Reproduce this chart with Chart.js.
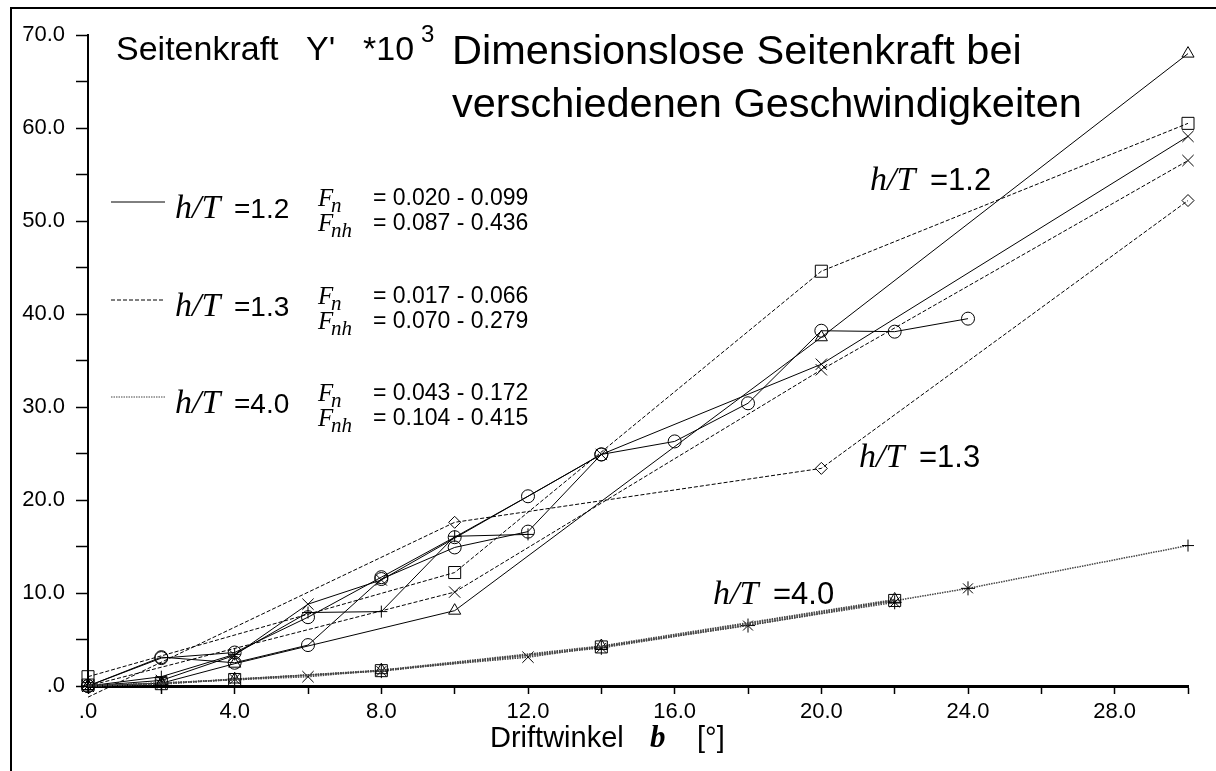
<!DOCTYPE html>
<html>
<head>
<meta charset="utf-8">
<script src="https://cdn.jsdelivr.net/npm/chart.js@4.4.1/dist/chart.umd.min.js"></script>
<style>
  html, body { margin: 0; padding: 0; background: #ffffff; }
  canvas { display: block; }
</style>
</head>
<body>
<canvas id="chart" width="1216" height="771"></canvas>
<script>
// Driftwinkel beta [deg] and side force Y' * 10^3 for each measured series

// h/T = 1.2 (solid lines)
const beta12Tri   = [0, 2, 4, 10, 20, 30];
const force12Tri  = [0, 0.3, 2.4, 8.1, 37.5, 68.0];
const beta12CircA = [0, 2, 4, 6, 8, 10, 12, 14, 16, 18, 20, 22, 24];
const force12CircA= [0, 3.1, 2.5, 4.4, 11.5, 14.9, 16.6, 24.9, 26.3, 30.4, 38.2, 38.1, 39.5];
const beta12CircB = [0, 2, 4, 6, 8, 10, 12, 14];
const force12CircB= [0, 3.0, 3.6, 7.4, 11.7, 16.0, 20.4, 24.9];
const beta12Plus  = [0, 2, 4, 6, 8, 10, 12];
const force12Plus = [0, 1.0, 3.4, 7.9, 8.0, 16.1, 16.3];
const beta12X     = [0, 2, 4, 6, 8, 14, 20, 30];
const force12X    = [0, 0.6, 3.3, 8.8, 11.4, 24.9, 34.6, 59.1];

// h/T = 1.3 (dashed lines)
const beta13Sq    = [0, 10, 20, 30];
const force13Sq   = [1.0, 12.2, 44.6, 60.5];
const beta13X     = [0, 10, 20, 30];
const force13X    = [0, 10.1, 34.0, 56.5];
const beta13Dia   = [0, 10, 20, 30];
const force13Dia  = [-1.2, 17.6, 23.4, 52.2];

// h/T = 4.0 (dotted lines)
const beta40Sq    = [0, 2, 4, 8, 14, 22];
const force40Sq   = [0.1, 0.25, 0.7, 1.65, 4.2, 9.2];
const beta40Tri   = [0, 2, 4, 8, 14, 22];
const force40Tri  = [0, 0.3, 0.7, 1.7, 4.3, 9.3];
const beta40Star  = [0, 2, 4, 8, 14, 22];
const force40Star = [0, 0.2, 0.75, 1.6, 4.1, 9.0];
const beta40X     = [0, 6, 12, 18, 24, 30];
const force40X    = [0, 1.0, 3.1, 6.5, 10.5, 15.1];
const markers40X  = ['crossRot', 'crossRot', 'crossRot', 'star', 'star', 'cross'];

// axis ticks and legend texts
const xMax = 30, xStep = 2, xLabelStep = 4;
const yMax = 70, yStep = 5, yLabelStep = 10;
const depthRatios = ['1.2', '1.3', '4.0'];
const froudeDepth = ['0.020 - 0.099', '0.017 - 0.066', '0.043 - 0.172'];
const froudeDepthH = ['0.087 - 0.436', '0.070 - 0.279', '0.104 - 0.415'];

const SANS = '"Liberation Sans", Arial, sans-serif';
const SERIF = '"Liberation Serif", "Times New Roman", serif';

const lineStyles = {
  solid:  { borderColor: '#000', borderWidth: 1, borderDash: [] },
  dashed: { borderColor: '#000', borderWidth: 1, borderDash: [4, 2] },
  dotted: { borderColor: '#444', borderWidth: 1.5, borderDash: [1.5, 1] }
};
const markerSize = { circle: 6.5, triangle: 7, rect: 8.5, rectRot: 6, crossRot: 8, star: 7, cross: 6 };

function series(betas, forces, style, marker) {
  const markerList = Array.isArray(marker) ? marker : betas.map(() => marker);
  return Object.assign({
    data: betas.map((b, i) => ({ x: b, y: forces[i] })),
    showLine: true,
    tension: 0,
    fill: false,
    clip: false,
    pointStyle: markerList,
    pointRadius: markerList.map(m => markerSize[m]),
    pointBorderColor: '#000',
    pointBackgroundColor: 'rgba(0,0,0,0)',
    pointBorderWidth: 1
  }, lineStyles[style]);
}

function tickText(v) {
  return v === 0 ? '.0' : v.toFixed(1);
}

const annotations = {
  id: 'annotations',
  afterDraw(chart) {
    const ctx = chart.ctx;
    ctx.save();
    ctx.fillStyle = '#000';
    ctx.strokeStyle = '#000';

    // outer frame
    ctx.lineWidth = 2;
    ctx.beginPath();
    ctx.moveTo(11, 771);
    ctx.lineTo(11, 8);
    ctx.lineTo(1216, 8);
    ctx.stroke();

    ctx.textBaseline = 'alphabetic';
    ctx.textAlign = 'left';

    // y-axis caption
    ctx.font = '34px ' + SANS;
    ctx.fillText('Seitenkraft', 116, 60);
    ctx.fillText("Y'", 306, 60);
    ctx.fillText('*10', 363, 60);
    ctx.font = '24px ' + SANS;
    ctx.fillText('3', 421, 42);

    // title
    ctx.font = '41.5px ' + SANS;
    ctx.fillText('Dimensionslose Seitenkraft bei', 452, 64);
    ctx.fillText('verschiedenen Geschwindigkeiten', 452, 117);

    // legend block
    const lineDash = [[], [4, 2], [1.5, 1]];
    const lineColor = ['#000', '#000', '#444'];
    depthRatios.forEach((r, i) => {
      const mid = Math.round(202 + i * 97.5);
      const b1 = mid + 3;
      const b2 = mid + 28;
      ctx.save();
      ctx.lineWidth = 1;
      ctx.strokeStyle = lineColor[i];
      ctx.setLineDash(lineDash[i]);
      ctx.beginPath();
      ctx.moveTo(111, mid);
      ctx.lineTo(165, mid);
      ctx.stroke();
      ctx.restore();

      ctx.font = 'italic 34px ' + SERIF;
      ctx.fillText('h/T', 175, mid + 16);
      ctx.font = '28px ' + SANS;
      ctx.fillText('=' + r, 234, mid + 16);

      ctx.font = 'italic 25px ' + SERIF;
      ctx.fillText('F', 318, b1 + 1);
      ctx.fillText('F', 318, b2 + 1);
      ctx.font = 'italic 21px ' + SERIF;
      ctx.fillText('n', 331, b1 + 7);
      ctx.fillText('nh', 331, b2 + 7);

      ctx.font = '23px ' + SANS;
      ctx.fillText('= ' + froudeDepth[i], 373, b1);
      ctx.fillText('= ' + froudeDepthH[i], 373, b2);
    });

    // curve group labels
    const groupLabels = [
      { r: depthRatios[0], x: 870, y: 190 },
      { r: depthRatios[1], x: 859, y: 467 },
      { r: depthRatios[2], x: 713, y: 604 }
    ];
    groupLabels.forEach(g => {
      ctx.font = 'italic 34px ' + SERIF;
      ctx.fillText('h/T', g.x, g.y);
      ctx.font = '31px ' + SANS;
      ctx.fillText('=' + g.r, g.x + 60, g.y);
    });

    // x-axis caption
    ctx.font = '29px ' + SANS;
    ctx.fillText('Driftwinkel', 490, 747);
    ctx.font = 'bold italic 31px ' + SERIF;
    ctx.fillText('b', 650, 747);
    ctx.font = '29px ' + SANS;
    ctx.fillText('[°]', 697, 747);

    ctx.restore();
  }
};

new Chart(document.getElementById('chart'), {
  type: 'scatter',
  data: {
    datasets: [
      series(beta40Sq, force40Sq, 'dotted', 'rect'),
      series(beta40Tri, force40Tri, 'dotted', 'triangle'),
      series(beta40Star, force40Star, 'dotted', 'star'),
      series(beta40X, force40X, 'dotted', markers40X),
      series(beta13Sq, force13Sq, 'dashed', 'rect'),
      series(beta13X, force13X, 'dashed', 'crossRot'),
      series(beta13Dia, force13Dia, 'dashed', 'rectRot'),
      series(beta12Tri, force12Tri, 'solid', 'triangle'),
      series(beta12CircA, force12CircA, 'solid', 'circle'),
      series(beta12CircB, force12CircB, 'solid', 'circle'),
      series(beta12Plus, force12Plus, 'solid', 'cross'),
      series(beta12X, force12X, 'solid', 'crossRot')
    ]
  },
  options: {
    responsive: false,
    animation: false,
    devicePixelRatio: 1,
    layout: { padding: { top: 35, right: 28, left: 0, bottom: 0 } },
    plugins: { legend: { display: false }, tooltip: { enabled: false } },
    scales: {
      x: {
        type: 'linear',
        min: 0,
        max: xMax,
        afterFit(scale) { scale.height = 85; },
        border: { display: true, color: '#000', width: 3 },
        grid: { display: true, drawOnChartArea: false, drawTicks: true, tickLength: 8, tickWidth: 1.5, tickColor: '#000' },
        ticks: {
          stepSize: xStep,
          autoSkip: false,
          maxRotation: 0,
          padding: 5,
          color: '#000',
          font: { family: SANS, size: 22 },
          callback: v => (v % xLabelStep === 0 && v < xMax) ? tickText(v) : ''
        }
      },
      y: {
        type: 'linear',
        min: 0,
        max: yMax,
        afterFit(scale) { scale.width = 88; },
        border: { display: true, color: '#000', width: 2 },
        grid: { display: true, drawOnChartArea: false, drawTicks: true, tickLength: 12, tickWidth: 1.5, tickColor: '#000' },
        ticks: {
          stepSize: yStep,
          autoSkip: false,
          padding: 11,
          color: '#000',
          font: { family: SANS, size: 22 },
          callback: v => (v % yLabelStep === 0) ? tickText(v) : ''
        }
      }
    }
  },
  plugins: [annotations]
});
</script>
</body>
</html>
